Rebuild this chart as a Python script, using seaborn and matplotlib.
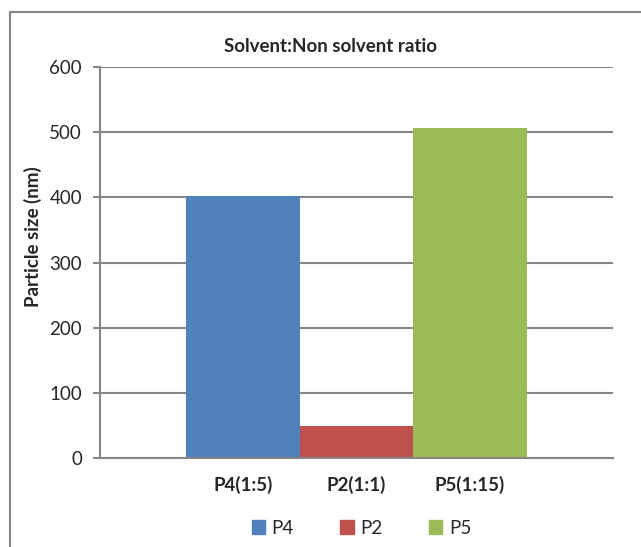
import matplotlib.pyplot as plt
import matplotlib.patches as mpatches
import pandas as pd
import seaborn as sns

# chart values
ratios = ["P4(1:5)", "P2(1:1)", "P5(1:15)"]
series = ["P4", "P2", "P5"]
sizes = [402, 49, 507]
colors = ["#4F81BD", "#C0504D", "#9BBB59"]
yticks = [0, 100, 200, 300, 400, 500, 600]

df = pd.DataFrame({"ratio": ratios, "series": series, "size": sizes})

sns.set_style("white")
plt.rcParams["font.family"] = ["Lato", "DejaVu Sans"]

fig = plt.figure(figsize=(6.41, 5.47), dpi=100)
ax = fig.add_axes([100 / 641, 1 - 458 / 547, 513 / 641, 391 / 547])

sns.barplot(data=df, x="ratio", y="size", hue="series", order=ratios,
            hue_order=series, palette=colors, dodge=False, width=1.0,
            saturation=1, legend=False, linewidth=0, ax=ax)

# gap width like the spreadsheet chart: bars take ~2/3 of the category
ax.set_xlim(-1.26, 3.26)
ax.set_ylim(0, 600)
ax.set_yticks(yticks)
ax.yaxis.grid(True, color="#868686", linewidth=1.5)
ax.set_axisbelow(True)
for s in ["top", "right"]:
    ax.spines[s].set_visible(False)
for s in ["left", "bottom"]:
    ax.spines[s].set_color("#868686")
    ax.spines[s].set_linewidth(1.5)

ax.tick_params(axis="y", length=5, width=1.5, color="#868686",
               labelsize=13.5, pad=8, left=True)
ax.tick_params(axis="x", length=0, labelsize=13.5, pad=13)
for lab in ax.get_xticklabels():
    lab.set_fontweight("bold")
ax.set_xlabel("")
ax.set_ylabel("")

fig.text(0.515, 1 - 46 / 547, "Solvent:Non solvent ratio", ha="center",
         va="center", fontsize=13.5, fontweight="bold")
fig.text(33 / 641, 1 - 237 / 547, "Particle size (nm)", rotation=90,
         ha="center", va="center", fontsize=13.5, fontweight="bold")

handles = [mpatches.Patch(color=c, label=s) for c, s in zip(colors, series)]
fig.legend(handles=handles, loc="center", bbox_to_anchor=(0.564, 1 - 528 / 547),
           ncol=3, frameon=False, fontsize=13.5, handlelength=0.7,
           handleheight=0.7, handletextpad=0.35, columnspacing=2.5)

# chart area border (only left and top visible in the crop)
fig.patches.append(mpatches.Rectangle((10 / 641, -0.1), 1.2, 1 - 12 / 547 + 0.1,
                                      transform=fig.transFigure, fill=False,
                                      edgecolor="#868686", linewidth=1.5))

fig.savefig("out.png", dpi=100)
